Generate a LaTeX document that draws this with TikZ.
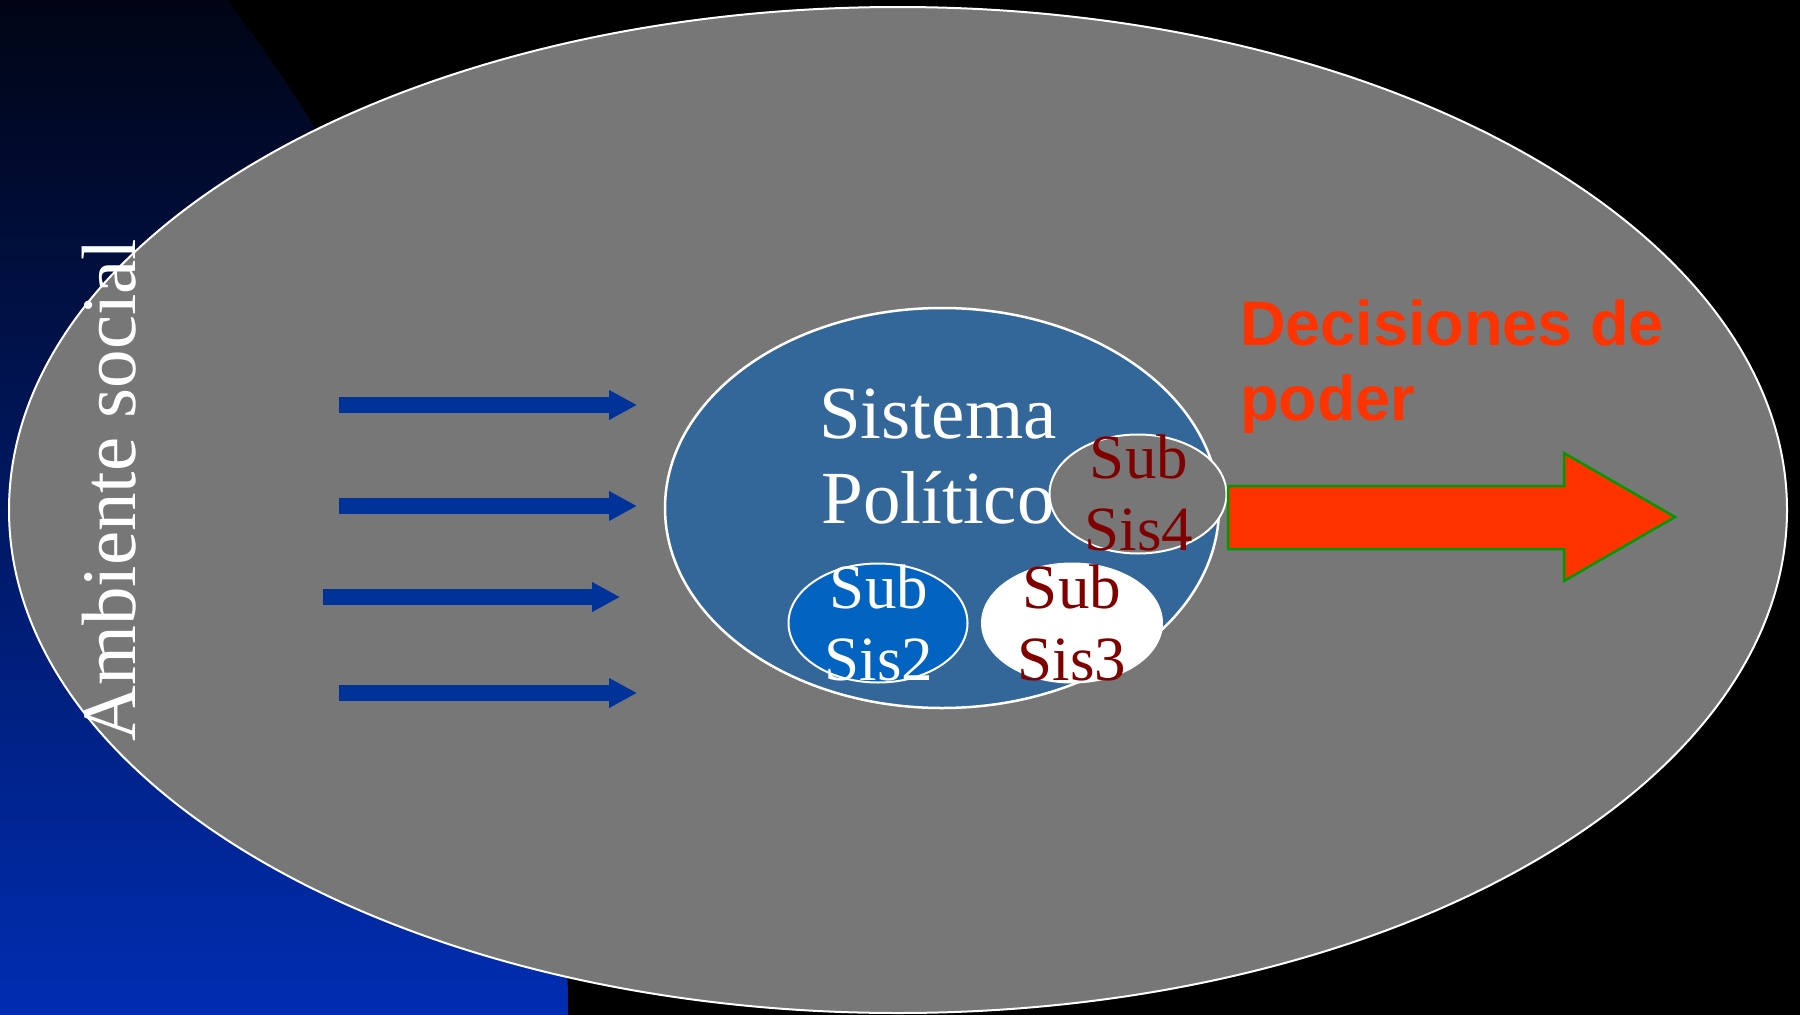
\documentclass[tikz,border=0pt]{standalone}
\usepackage{fontspec}
\setmainfont{Liberation Serif}
\newfontfamily\arialfont{Liberation Sans}
\usepackage{xcolor}
\usetikzlibrary{shapes.geometric,arrows.meta}

\definecolor{fondogris}{RGB}{119,119,119}
\definecolor{azulsistema}{RGB}{51,102,153}
\definecolor{azulsub}{RGB}{3,99,193}
\definecolor{rojooscuro}{RGB}{128,0,0}
\definecolor{rojodecision}{RGB}{255,51,0}
\definecolor{verdeborde}{RGB}{0,153,0}
\definecolor{azulflecha}{RGB}{0,51,153}
\definecolor{fondoarriba}{RGB}{0,4,20}
\definecolor{fondoabajo}{RGB}{0,45,178}

\tikzset{
	elipse/.style={ellipse,draw=white,line width=2pt,inner sep=0pt},
	subtexto/.style={align=center,inner sep=0pt,anchor=base,font=\fontsize{63}{72}\selectfont},
	entrada/.style={azulflecha,line width=16pt,-{Triangle[length=28pt,width=28pt]}}
}

\begin{document}
\begin{tikzpicture}[x=1pt,y=-1pt]
	\useasboundingbox (0,0) rectangle (1800,1015);
	\fill[black] (0,0) rectangle (1800,1015);
	\begin{scope}
		\clip (-1113,1015) circle[radius=1681pt];
		\fill[top color=fondoarriba,bottom color=fondoabajo] (0,0) rectangle (1800,1015);
	\end{scope}
	\node[elipse,fill=fondogris,minimum width=1778pt,minimum height=1006pt] (ambiente) at (898,510) {};
	\node[elipse,fill=azulsistema,line width=2.5pt,minimum width=554pt,minimum height=400pt] (sistema) at (942,508) {};
	\node[anchor=base,align=center,inner sep=0pt,text=white,font=\fontsize{75}{85}\selectfont] (sistematexto) at (938,523) {Sistema\\Político};
	\node[elipse,fill=fondogris,minimum width=177pt,minimum height=119pt] (subsis4) at (1138,494) {};
	\node[elipse,fill=azulsub,minimum width=179pt,minimum height=119pt] (subsis2) at (878,623) {};
	\node[elipse,fill=white,minimum width=180pt,minimum height=119pt] (subsis3) at (1072,623) {};
	\node[subtexto,text=white] (textosub2) at (879,680) {Sub\\Sis2};
	\node[subtexto,text=rojooscuro] (textosub3) at (1072,680) {Sub\\Sis3};
	\node[subtexto,text=rojooscuro] (textosub4) at (1139,550) {Sub\\Sis4};
	\node[rotate=90,anchor=base,inner sep=0pt,text=white,font=\fontsize{77}{90}\selectfont] (ambientetexto) at (135,490) {Ambiente social};
	\node[anchor=base west,align=left,inner sep=0pt,text=rojodecision,font=\arialfont\bfseries\fontsize{63}{75}\selectfont] (decisiones) at (1240,420) {Decisiones de\\poder};
	\coordinate (inicio1) at (339,405);
	\coordinate (fin1) at (637,405);
	\coordinate (inicio2) at (339,506);
	\coordinate (fin2) at (637,506);
	\coordinate (inicio3) at (323,597);
	\coordinate (fin3) at (620,597);
	\coordinate (inicio4) at (339,693);
	\coordinate (fin4) at (637,693);
	\draw[entrada] (inicio1) -- (fin1);
	\draw[entrada] (inicio2) -- (fin2);
	\draw[entrada] (inicio3) -- (fin3);
	\draw[entrada] (inicio4) -- (fin4);
	\draw[fill=rojodecision,draw=verdeborde,line width=2.5pt] (1228,486) -- (1564,486) -- (1564,453) -- (1675,517) -- (1564,581) -- (1564,549) -- (1228,549) -- cycle;
\end{tikzpicture}
\end{document}
